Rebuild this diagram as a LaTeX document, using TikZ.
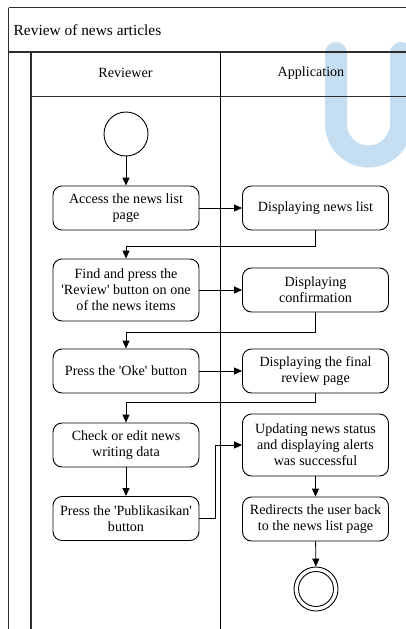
\documentclass[tikz,border=0pt]{standalone}
\usepackage{fontspec}
% plain family: keeps straight apostrophes (no TeX ligature mapping)
\newfontfamily\tnr{Liberation Serif}
\usetikzlibrary{arrows.meta}
\definecolor{framegray}{RGB}{45,45,45}
\definecolor{marktint}{RGB}{198,222,241}
\begin{document}
\begin{tikzpicture}[x=1pt,y=-1pt,
  txt/.style={font=\tnr\fontsize{14.1}{16}\selectfont},
  act/.style={txt, draw, line width=0.9pt, rounded corners=9pt, fill=white,
    minimum width=146pt, minimum height=44pt, align=center, inner sep=2pt},
  flow/.style={-{Triangle[length=8pt,width=7pt]}, line width=0.9pt},
  outerline/.style={line width=1.7pt, draw=framegray},
  innerline/.style={line width=1.2pt, draw=framegray},
  thinline/.style={line width=0.8pt, draw=black},
  startnode/.style={circle, draw, line width=0.9pt, fill=white, minimum size=44pt, inner sep=0pt},
]
\useasboundingbox (0,0) rectangle (406,629);
\clip (0,0) rectangle (406,629);

% background emblem
\fill[marktint] (325,53) -- (325,124)
  arc[start angle=180, end angle=0, radius=43.5] -- (412,53)
  arc[start angle=0, end angle=-180, radius=11] -- (390,124)
  arc[start angle=0, end angle=180, radius=21.5] -- (347,53)
  arc[start angle=0, end angle=-180, radius=11] -- cycle;

% swimlane frame
\draw[outerline] (8.5,7.5) -- (412,7.5);
\draw[outerline] (8.5,7.5) -- (8.5,640);
\draw[innerline] (8.5,52) -- (412,52);
\draw[innerline] (31,52) -- (31,640);
\draw[thinline, draw=framegray] (31,96) -- (412,96);
\draw[thinline] (220.5,52) -- (220.5,640);

\node[font=\tnr\fontsize{15.4}{18}\selectfont, anchor=west, inner sep=0pt] (title) at (13.5,30) {Review of news articles};
\node[txt] (laneA) at (125.5,73) {Reviewer};
\node[txt] (laneB) at (311,73) {Application};

% activities
\node[startnode] (start) at (126,134) {};
\node[act] (a1) at (126,208) {Access the news list\\page};
\node[act] (b1) at (315.5,208) {Displaying news list};
\node[act, minimum height=62pt] (a2) at (126,290) {Find and press the\\'Review' button on one\\of the news items};
\node[act] (b2) at (315.5,290) {Displaying\\confirmation};
\node[act] (a3) at (126,371) {Press the 'Oke' button};
\node[act] (b3) at (315.5,371) {Displaying the final\\review page};
\node[act] (a4) at (126,445) {Check or edit news\\writing data};
\node[act] (a5) at (126,518.5) {Press the 'Publikasikan'\\button};
\node[act, minimum height=62pt] (b4) at (315.5,445) {Updating news status\\and displaying alerts\\was successful};
\node[act] (b5) at (315.5,519) {Redirects the user back\\to the news list page};
\node[startnode] (end) at (316,589) {};
\node[circle, draw, line width=0.9pt, minimum size=35pt, inner sep=0pt] (endcore) at (end) {};

% control flow
\draw[flow] (start) -- (a1);
\draw[flow] (a1) -- (b1);
\draw[flow] (b1.south) -- ++(0,16) -| (a2.north);
\draw[flow] (a2) -- (b2);
\draw[flow] (b2.south) -- ++(0,20) -| (a3.north);
\draw[flow] (a3) -- (b3);
\draw[flow] (b3.south) -- ++(0,9) -| (a4.north);
\draw[flow] (a4) -- (a5);
\draw[flow] (a5.east) -- ++(16,0) |- (b4.west);
\draw[flow] (b4) -- (b5);
\draw[flow] (b5) -- (end);
\end{tikzpicture}
\end{document}
